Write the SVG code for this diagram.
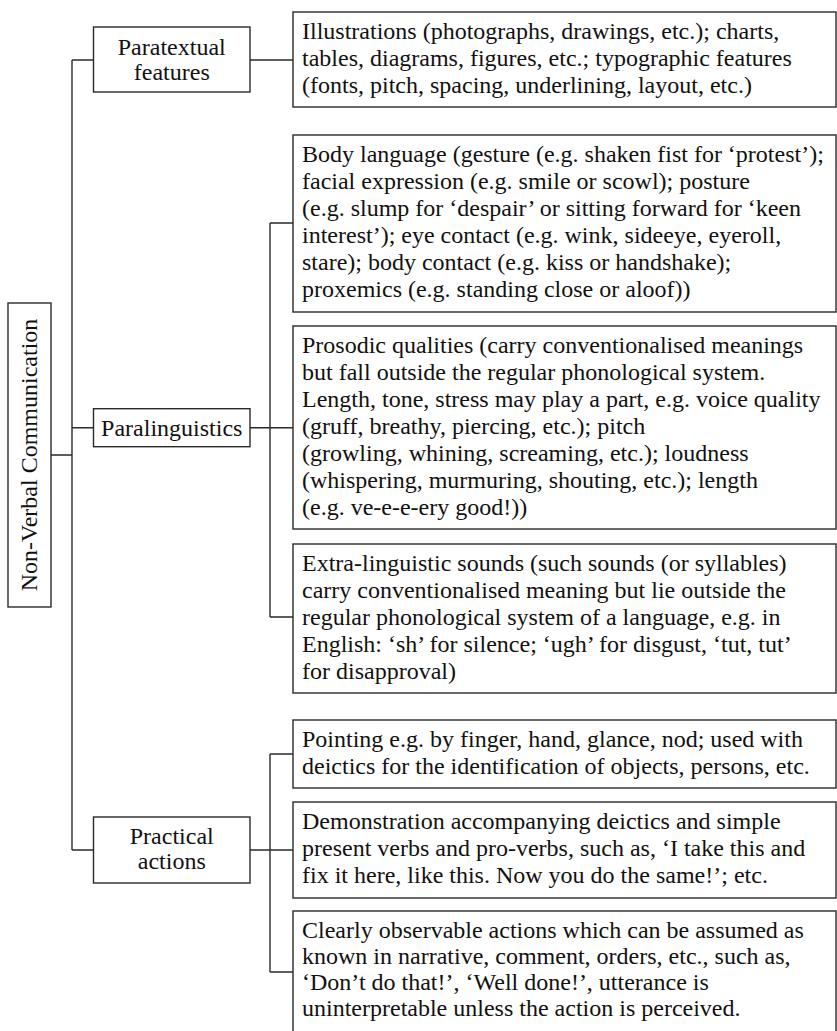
<svg xmlns="http://www.w3.org/2000/svg" width="837" height="1031" viewBox="0 0 837 1031">
<style>
.box{fill:#fff;stroke:#2a2a2a;stroke-width:1.4}
.ln{fill:none;stroke:#2a2a2a;stroke-width:1.4}
text{font-family:"Liberation Serif","Times New Roman",serif;font-size:24px;fill:#111}
.c{text-anchor:middle}
</style>
<rect width="837" height="1031" fill="#fff"/>
<g id="connectors">
<path class="ln" d="M72,60 V850 M51,455 H72 M72,60 H93.5 M72,427.7 H93.5 M72,850 H93.5"/>
<path class="ln" d="M250,60 H293"/>
<path class="ln" d="M250,427.7 H293 M270,223 V617 M270,223 H293 M270,617 H293"/>
<path class="ln" d="M250,850 H293 M270,754 V972 M270,754 H293 M270,972 H293"/>
</g>
<g id="root">
<rect class="box" x="8" y="303" width="43" height="304"/>
<text class="c" transform="translate(37,455) rotate(-90)">Non-Verbal Communication</text>
</g>
<g id="paratextual">
<rect class="box" x="93.5" y="27" width="156.5" height="65"/>
<text class="c" x="171.75" y="54.5">Paratextual</text>
<text class="c" x="171.75" y="80">features</text>
</g>
<g id="paralinguistics">
<rect class="box" x="93.5" y="408.7" width="156.5" height="38"/>
<text class="c" x="171.75" y="435.5">Paralinguistics</text>
</g>
<g id="practical">
<rect class="box" x="93.5" y="817" width="156.5" height="66"/>
<text class="c" x="171.75" y="843.5">Practical</text>
<text class="c" x="171.75" y="869">actions</text>
</g>
<g id="illustrations">
<rect class="box" x="293" y="12" width="543" height="95"/>
<text x="302" y="39">Illustrations (photographs, drawings, etc.); charts,</text>
<text x="302" y="66">tables, diagrams, figures, etc.; typographic features</text>
<text x="302" y="93">(fonts, pitch, spacing, underlining, layout, etc.)</text>
</g>
<g id="body-language">
<rect class="box" x="293" y="135" width="543" height="177"/>
<text x="302" y="162">Body language (gesture (e.g. shaken fist for ‘protest’);</text>
<text x="302" y="189">facial expression (e.g. smile or scowl); posture</text>
<text x="302" y="216">(e.g. slump for ‘despair’ or sitting forward for ‘keen</text>
<text x="302" y="243">interest’); eye contact (e.g. wink, sideeye, eyeroll,</text>
<text x="302" y="270">stare); body contact (e.g. kiss or handshake);</text>
<text x="302" y="297">proxemics (e.g. standing close or aloof))</text>
</g>
<g id="prosodic">
<rect class="box" x="293" y="326" width="543" height="203"/>
<text x="302" y="353">Prosodic qualities (carry conventionalised meanings</text>
<text x="302" y="380">but fall outside the regular phonological system.</text>
<text x="302" y="407">Length, tone, stress may play a part, e.g. voice quality</text>
<text x="302" y="434">(gruff, breathy, piercing, etc.); pitch</text>
<text x="302" y="461">(growling, whining, screaming, etc.); loudness</text>
<text x="302" y="488">(whispering, murmuring, shouting, etc.); length</text>
<text x="302" y="515">(e.g. ve-e-e-ery good!))</text>
</g>
<g id="extra-linguistic">
<rect class="box" x="293" y="544" width="543" height="149"/>
<text x="302" y="571">Extra-linguistic sounds (such sounds (or syllables)</text>
<text x="302" y="598">carry conventionalised meaning but lie outside the</text>
<text x="302" y="625">regular phonological system of a language, e.g. in</text>
<text x="302" y="652">English: ‘sh’ for silence; ‘ugh’ for disgust, ‘tut, tut’</text>
<text x="302" y="679">for disapproval)</text>
</g>
<g id="pointing">
<rect class="box" x="293" y="720" width="543" height="68"/>
<text x="302" y="747">Pointing e.g. by finger, hand, glance, nod; used with</text>
<text x="302" y="774">deictics for the identification of objects, persons, etc.</text>
</g>
<g id="demonstration">
<rect class="box" x="293" y="802" width="543" height="96"/>
<text x="302" y="829">Demonstration accompanying deictics and simple</text>
<text x="302" y="856">present verbs and pro-verbs, such as, ‘I take this and</text>
<text x="302" y="883">fix it here, like this. Now you do the same!’; etc.</text>
</g>
<g id="observable-actions">
<rect class="box" x="293" y="911" width="543" height="130"/>
<text x="302" y="938">Clearly observable actions which can be assumed as</text>
<text x="302" y="964">known in narrative, comment, orders, etc., such as,</text>
<text x="302" y="990">‘Don’t do that!’, ‘Well done!’, utterance is</text>
<text x="302" y="1016">uninterpretable unless the action is perceived.</text>
</g>
</svg>
